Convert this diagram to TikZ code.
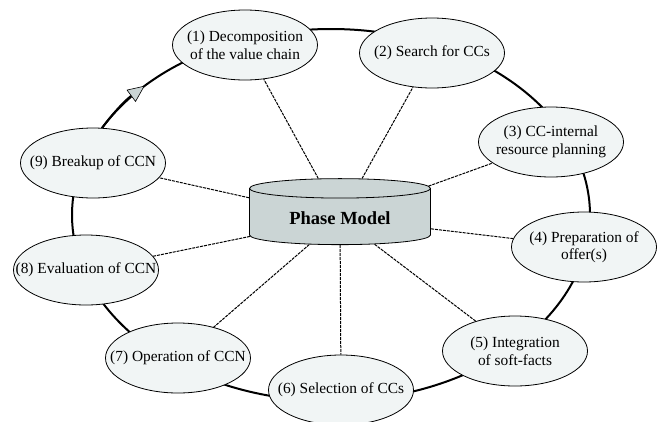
\documentclass[tikz,border=0pt]{standalone}
\usepackage{fontspec}
\setmainfont{LiberationSerif}[Extension=.ttf, UprightFont=*-Regular, BoldFont=*-Bold]
\usetikzlibrary{arrows.meta, shapes.geometric}
\definecolor{phasefill}{RGB}{241,245,245}
\definecolor{modelfill}{RGB}{203,213,213}

\begin{document}
\begin{tikzpicture}[
  x=1pt, y=-1pt,
  phase/.style={ellipse, draw, fill=phasefill, line width=0.8pt,
                minimum width=145pt, minimum height=70pt, inner xsep=-20pt,
                inner ysep=0pt, align=center, font=\rmfamily\fontsize{15.4}{17.5}\selectfont},
  model/.style={cylinder, shape border rotate=90, aspect=0.18, draw,
                fill=modelfill, line width=0.8pt, minimum width=181pt,
                minimum height=66pt, font=\rmfamily\fontsize{18.5}{20}\selectfont\bfseries},
  ring/.style={line width=2pt},
  spoke/.style={line width=1pt, dash pattern=on 3pt off 1pt}
]
  \useasboundingbox (0,0) rectangle (664,421);
  \coordinate (ringc) at (331,215);
  \draw[ring] (ringc) ellipse [x radius=259, y radius=186];
  \draw[ring, -{Triangle[length=17pt, width=15pt, fill=modelfill, line width=0.6pt]}]
    (ringc) ++(205:259 and 186) arc [start angle=205, end angle=224, x radius=259, y radius=186];

  \node[model] (pm) at (340,218) {Phase Model};
  \node[phase] (p1) at (245,45) {(1) Decomposition\\of the value chain};
  \node[phase] (p2) at (432,53) {(2) Search for CCs};
  \node[phase] (p3) at (551,142) {(3) CC-internal\\resource planning};
  \node[phase] (p4) at (584,247) {(4) Preparation of\\offer(s)};
  \node[phase] (p5) at (515,351) {(5) Integration\\of soft-facts};
  \node[phase] (p6) at (341,390) {(6) Selection of CCs};
  \node[phase] (p7) at (178,358) {(7) Operation of CCN};
  \node[phase] (p8) at (86,270) {(8) Evaluation of CCN};
  \node[phase] (p9) at (93,163) {(9) Breakup of CCN};

  \draw[spoke] (pm) -- (p1);
  \draw[spoke] (pm) -- (p2);
  \draw[spoke] (pm) -- (p3);
  \draw[spoke] (pm) -- (p4);
  \draw[spoke] (pm) -- (p5);
  \draw[spoke] (pm) -- (p6);
  \draw[spoke] (pm) -- (p7);
  \draw[spoke] (pm) -- (p8);
  \draw[spoke] (pm) -- (p9);
\end{tikzpicture}
\end{document}
